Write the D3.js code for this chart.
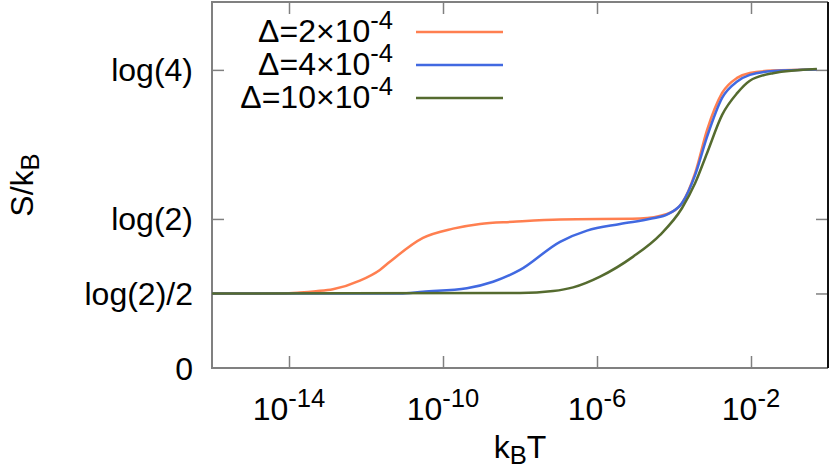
<!DOCTYPE html>
<html>
<head>
<meta charset="utf-8">
<script src="https://cdn.jsdelivr.net/npm/d3@7"></script>
<style>
  body { margin: 0; background: #fff; }
  text { font-family: "Liberation Sans", Arial, Helvetica, sans-serif; fill: #000; }
</style>
</head>
<body>
<svg width="830" height="472"></svg>
<script>
// series: log10(kB T) and S/kB
const legendLabels = ['Δ=2×10', 'Δ=4×10', 'Δ=10×10'];
const legendExp = '-4';
const colors = ['#ff7f50', '#4169e1', '#556b2f'];

const logT2 = [-16, -14.16, -13.71, -13.3, -12.86, -12.16, -11.64, -11.38, -10.52, -9.74, -9.04, -8.18, -6.96, -4.88, -4.18, -3.79, -3.45, -3.14, -2.75, -2.36, -2.03, -1.43, -0.29];
const s2    = [0.3466, 0.3470, 0.351, 0.357, 0.366, 0.406, 0.456, 0.494, 0.605, 0.648, 0.670, 0.680, 0.691, 0.695, 0.716, 0.767, 0.907, 1.107, 1.279, 1.349, 1.372, 1.383, 1.388];

const logT4 = [-16, -11.12, -10.52, -9.38, -8.70, -8.0, -6.96, -6.26, -5.40, -4.55, -4.16, -3.79, -3.45, -3.14, -2.75, -2.36, -2.03, -1.43, -0.29];
const s4    = [0.3466, 0.3466, 0.355, 0.371, 0.401, 0.456, 0.587, 0.639, 0.670, 0.696, 0.716, 0.767, 0.898, 1.076, 1.256, 1.332, 1.363, 1.381, 1.388];

const logT10 = [-16, -8.0, -7.14, -6.62, -5.92, -5.06, -4.36, -3.79, -3.45, -3.14, -2.75, -2.36, -2.03, -1.43, -0.29];
const s10    = [0.3466, 0.349, 0.358, 0.375, 0.425, 0.518, 0.619, 0.744, 0.860, 1.0, 1.177, 1.278, 1.336, 1.371, 1.390];

const xTickExp = [-14, -10, -6, -2];
const yTickVals = [0, Math.log(2) / 2, Math.log(2), Math.log(4)];
const yTickLabels = ['0', 'log(2)/2', 'log(2)', 'log(4)'];

const series = [
  { t: logT2, s: s2 },
  { t: logT4, s: s4 },
  { t: logT10, s: s10 }
];

const svg = d3.select('svg');
const margin = { top: 2, right: 2, bottom: 104, left: 212 };
const width = 830 - margin.left - margin.right;
const height = 472 - margin.top - margin.bottom;
const fs = 32;

const chart = svg.append('g')
  .attr('transform', `translate(${margin.left}, ${margin.top})`);

const xScale = d3.scaleLog()
  .domain([1e-16, 1])
  .range([0, width]);

const yScale = d3.scaleLinear()
  .domain([0, 1.702])
  .range([height, 0]);

const xTicks = xTickExp.map(e => Math.pow(10, e));

// inward ticks on all four sides
const tickLen = 12;
const styleTicks = g => {
  g.select('.domain').remove();
  g.selectAll('.tick line').attr('stroke', '#808080').attr('stroke-width', 1.5);
  g.selectAll('.tick text').remove();
};

chart.append('g')
  .attr('transform', `translate(0, ${height})`)
  .call(d3.axisBottom(xScale).tickValues(xTicks).tickSize(-tickLen))
  .call(styleTicks);
chart.append('g')
  .call(d3.axisTop(xScale).tickValues(xTicks).tickSize(-tickLen))
  .call(styleTicks);
chart.append('g')
  .call(d3.axisLeft(yScale).tickValues(yTickVals.slice(1)).tickSize(-tickLen))
  .call(styleTicks);
chart.append('g')
  .attr('transform', `translate(${width}, 0)`)
  .call(d3.axisRight(yScale).tickValues(yTickVals.slice(1)).tickSize(-tickLen))
  .call(styleTicks);

// border
chart.append('path')
  .attr('d', `M${width},${height}H0V0H${width}`)
  .attr('fill', 'none')
  .attr('stroke', '#808080')
  .attr('stroke-width', 2);
chart.append('line')
  .attr('x1', width).attr('x2', width)
  .attr('y1', 0).attr('y2', height)
  .attr('stroke', '#111')
  .attr('stroke-width', 2);

// x tick labels 10^n
const xl = chart.append('g')
  .selectAll('text')
  .data(xTickExp)
  .enter()
  .append('text')
  .attr('x', e => xScale(Math.pow(10, e)))
  .attr('y', height + 52)
  .attr('text-anchor', 'middle')
  .style('font-size', fs + 'px');
xl.append('tspan').text('10');
xl.append('tspan')
  .attr('dy', -13)
  .style('font-size', (fs * 0.8) + 'px')
  .text(e => e);

// y tick labels
chart.append('g')
  .selectAll('text')
  .data(yTickVals)
  .enter()
  .append('text')
  .attr('x', -19)
  .attr('y', d => yScale(d))
  .attr('dy', '0.36em')
  .attr('text-anchor', 'end')
  .style('font-size', fs + 'px')
  .text((d, i) => yTickLabels[i]);

// curves
const line = d3.line()
  .curve(d3.curveMonotoneX)
  .x(d => xScale(Math.pow(10, d[0])))
  .y(d => yScale(d[1]));

series.forEach((sr, i) => {
  chart.append('path')
    .datum(sr.t.map((t, j) => [t, sr.s[j]]))
    .attr('fill', 'none')
    .attr('stroke', colors[i])
    .attr('stroke-width', 2.5)
    .attr('stroke-linejoin', 'round')
    .attr('d', line);
});

// legend
const legend = svg.append('g');
legendLabels.forEach((lab, i) => {
  const y = 32 + i * 33;
  legend.append('line')
    .attr('x1', 416).attr('x2', 503)
    .attr('y1', y).attr('y2', y)
    .attr('stroke', colors[i])
    .attr('stroke-width', 2.5);
  const t = legend.append('text')
    .attr('x', 393)
    .attr('y', y + 10)
    .attr('text-anchor', 'end')
    .style('font-size', fs + 'px');
  t.append('tspan').text(lab);
  t.append('tspan')
    .attr('dy', -13)
    .style('font-size', (fs * 0.8) + 'px')
    .text(legendExp);
});

// axis labels
const xLab = svg.append('text')
  .attr('x', margin.left + width / 2)
  .attr('y', 458)
  .attr('text-anchor', 'middle')
  .style('font-size', fs + 'px');
xLab.append('tspan').text('k');
xLab.append('tspan').attr('dy', 6).style('font-size', (fs * 0.8) + 'px').text('B');
xLab.append('tspan').attr('dy', -6).text('T');

const yLab = svg.append('text')
  .attr('transform', `translate(33, ${margin.top + height / 2}) rotate(-90)`)
  .attr('text-anchor', 'middle')
  .style('font-size', fs + 'px');
yLab.append('tspan').text('S/k');
yLab.append('tspan').attr('dy', 6).style('font-size', (fs * 0.8) + 'px').text('B');
</script>
</body>
</html>
